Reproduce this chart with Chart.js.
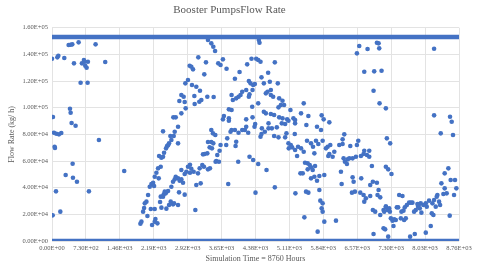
<!DOCTYPE html>
<html><head><meta charset="utf-8">
<script src="https://cdn.jsdelivr.net/npm/chart.js@4/dist/chart.umd.min.js"></script>
<style>html,body{margin:0;padding:0;background:#fff}#w{width:480px;height:273px}</style>
</head><body><div id="w"><canvas id="c"></canvas></div>
<script>
const chartTitle = "Booster PumpsFlow Rate";
const xTitle = "Simulation Time = 8760 Hours";
const yTitle = "Flow Rate (kg/ h)";
const xTickStep = 730, xMax = 8760;
const yTickStep = 20000, yMax = 160000;

// Simulation time (hours) and flow rate (kg/h), read segment by segment
const timeA = [358,401,437,573,938,0,115,136,265,473,644,687,716,745,773,702,1146,616,766,387,401,21,422,508,43,93,150,200,1010,57,64,444,294,451,537,1554,86,795,14,179];
const rateA = [147000,147250,147500,149000,147500,136750,137750,139000,137250,133250,133250,135750,131500,130000,134500,134500,134250,118750,118750,99250,96250,93000,88500,86500,81250,80500,80000,81000,75750,70750,69750,58000,49500,47500,44500,52500,37250,37250,19250,22000];

const timeB = [3357,3429,3472,3510,3149,3314,2963,2999,3035,3278,2927,2870,3013,3106,3185,2784,2834,3064,3343,3479,2741,2856,3071,3171,3214,2877,2784,2612,2663,2713,2390,2641,2620,2548,2569,2519,2476,2455,2498,2713,2305,2355,2390,2412,2340,2283,2247,2211,2297,2176,2140,2104,2197,2068,2032,1997,1982,1961,2126,2211,2054,1925,1903,2154,2211,2269,2226,
 3429,3464,3515,3357,3429,3472,3393,3443,3343,3250,3286,3536,3400,3357,3235,3271,3178,3142,2970,2927,2999,2892,2970,3049,2856,2784,2663,2713,2784,2820,2748,3200,3106,2569,2605,2641,2498,2448,2405,2426,2340,2390,2326,2555,2605,2627,2519,2734,2856,2713,2462,2355,3085];
const rateB = [150750,148250,145750,142500,137750,134000,131500,130750,128750,125000,120750,118250,117000,115750,112750,109500,108250,108750,108250,108000,105000,104250,102750,104500,105750,99500,95750,92750,92750,85750,82250,82000,78750,78750,75750,73250,71250,69500,71750,73250,63750,62500,63250,66250,55750,54500,51250,48250,47000,43750,42750,40750,41250,34500,29500,28250,24750,22000,24000,24000,18750,14500,13000,12000,14500,13250,16500,
 83250,80750,79500,74250,74250,73250,70250,69500,65750,65000,65250,60000,54500,53750,57000,55750,54500,50750,57250,55750,54250,52000,51250,52000,50250,53250,48250,47000,46250,43750,45250,43250,42000,40750,44500,46250,37500,35750,35000,37000,33250,33250,29250,29500,27500,28250,27000,36500,34750,27000,24250,25000,23250];

const timeC = [4452,4466,4294,4395,4438,4488,3679,3578,3628,3757,4201,4796,4037,3937,4509,4652,4237,4273,4330,4366,4560,4688,4860,4316,4180,4094,4058,3865,3965,4015,4237,4251,3893,4638,4710,4603,4710,4760,4889,4961,4996,4925,4875,4438,4309,3807,3865,4560,4603,4710,4781,4889,4961,5061,5132,3700,3679,3807,3807,4180,4316,4373,4359,4517,4660,4660,4732,4839,4946,5018,5089,5196,5232,5232,4581,4509,4488,4781,4875,5018,5046,4180,4151,4223,4094,4015,3937,3865,3843,3772,3951,3965,3750,3628,3607,3557,3521,3593,4008,4251,4330,4438,4617,3793,4380,4796,5239,5089,5139,5168,5096,5232,5275,5225,5296,5347];
const rateC = [150750,148750,136750,136750,135750,134500,136250,133250,132000,129250,132500,134000,126750,121750,122750,126250,120000,118250,117000,117750,118250,119500,118250,113250,113250,112000,109500,109500,107000,108250,108250,110000,105750,112000,113250,110750,109500,108250,107000,105250,102000,102000,100250,103250,100750,98750,98250,97000,95750,95250,94500,92750,92000,91250,98250,93750,91250,92000,90250,91250,92750,87750,85750,84500,88250,84500,84500,85250,88250,87750,90250,92000,90750,88250,82000,80250,78250,78750,77750,77750,80750,85750,83250,81250,83250,81250,83250,83250,82000,77000,71250,74500,72000,72000,67750,64500,59500,59500,59500,63250,60750,57750,53250,42750,36250,40250,35750,73250,72000,70250,69500,68250,63750,80250,70750,50750];

const timeD = [6613,6563,6792,6993,7029,7043,6721,6935,7093,6921,7050,7186,5418,5360,5518,5475,5804,5847,5969,5704,5790,6291,6255,6592,5489,5575,5682,5825,5732,5618,5933,5990,5897,6183,6420,6563,6255,5360,5418,5647,5969,6040,5947,6076,6721,6828,6778,6828,6706,6649,6542,6470,6363,6305,6399,6276,6348,5446,5503,5547,5575,5661,5397,5503,5611,5647,5575,5704,5754,5861,6885,7186,6219,6234,6470,6492,6656,6849,6906,6993,7029,7007,7065,6456,6520,6635,6706,6756,6721,6849,6906,6956,7065,7136,7186,5468,5518,5754,5775,5825,5804,5825,5861,6112,5432,5718,6921,7136];
const rateD = [146250,140750,144000,148750,148250,144500,127000,127250,127750,112750,103250,99500,103250,95750,93750,87000,94250,91250,89000,85750,83250,80000,76250,75250,75250,73250,75250,75250,72750,70750,70750,72000,69500,72000,71250,72000,72750,69500,67000,65750,65250,63250,63750,67000,67750,67750,64500,63250,65250,63750,63250,62000,61250,59500,62000,62000,57750,58750,58250,57000,55250,56250,50750,53750,53250,48250,47000,45250,48750,49500,56250,55750,52000,42750,47750,44500,47000,42000,44500,43750,38250,34500,32750,36250,37000,36250,34500,32000,29500,33750,23250,22000,19500,23250,25750,37000,36250,38250,30250,28250,24500,22000,14500,15250,17750,7000,5250,9500];

const timeE = [8224,8224,8567,8603,8367,8631,7207,7279,7236,7307,8531,8452,8381,8452,8495,8424,8581,8674,8703,8653,8295,8281,8224,8331,8353,8259,8188,8116,8045,8066,7994,7937,7902,7865,7880,7830,7794,7916,7951,7758,7723,7686,7637,7593,7565,7521,7450,7422,7472,7543,7508,7615,7579,7400,7329,7365,7293,7257,7221,7186,7150,7272,7350,7236,7708,7808,8045,8152,8209,8174,8560,7171];
const rateE = [144250,94250,93250,89500,80750,79500,77000,73250,53750,50250,54500,50750,43250,39500,35750,35250,45750,45750,39500,34500,34500,33250,30750,29500,27000,25750,28250,30250,28250,25750,27000,28250,27750,27750,25750,23250,22000,24500,21250,28750,28750,28750,27000,25250,22750,22000,25250,25250,34500,33750,17000,17000,15750,15750,15250,16250,17000,24500,23250,25750,22000,22000,11250,3250,3250,5250,6250,11250,19500,20750,19000,8750];

// Points that pile up on the upper limit and at zero form two solid bands
const capTime = [0, 8760], capRate = [153000, 153000];
const zeroTime = [0, 8760], zeroRate = [0, 0];

const allTime = [].concat(timeA, timeB, timeC, timeD, timeE);
const allRate = [].concat(rateA, rateB, rateC, rateD, rateE);
const pts = allTime.map((t, i) => ({x: t, y: allRate[i]}));
const toXY = (xs, ys) => xs.map((t, i) => ({x: t, y: ys[i]}));

function sci(v) {
  const s = Number(v).toExponential(2);
  const [m, e] = s.split('e');
  const sign = e[0] === '-' ? '-' : '+';
  const n = Math.abs(parseInt(e, 10));
  return m + 'E' + sign + String(n).padStart(2, '0');
}

const blue = '#4472C4';
const txt = '#595959';
const serif = '"Liberation Serif", "Times New Roman", serif';

new Chart(document.getElementById('c'), {
  type: 'scatter',
  data: {
    datasets: [
      {data: toXY(capTime, capRate), showLine: true, borderColor: blue, borderWidth: 4.5, pointRadius: 0, borderCapStyle: 'round'},
      {data: toXY(zeroTime, zeroRate), showLine: true, borderColor: blue, borderWidth: 4.5, pointRadius: 0, borderCapStyle: 'round'},
      {data: pts, backgroundColor: blue, borderColor: blue, borderWidth: 0, pointRadius: 2.3}
    ]
  },
  options: {
    responsive: true, maintainAspectRatio: false, animation: false,
    layout: {padding: {left: 0, right: 21, top: 0, bottom: 0}},
    plugins: {
      legend: {display: false}, tooltip: {enabled: false},
      title: {display: true, text: chartTitle, color: txt, font: {family: serif, size: 11, weight: 'normal'}, padding: {top: 4, bottom: 10.5}}
    },
    scales: {
      x: {
        type: 'linear', min: 0, max: xMax,
        afterFit: s => { s.height = 32; },
        ticks: {stepSize: xTickStep, autoSkip: false, maxRotation: 0, color: txt, padding: 3, font: {family: serif, size: 6.5}, callback: v => sci(v)},
        grid: {color: '#e3e3e3', drawTicks: false},
        border: {display: false},
        title: {display: true, text: xTitle, color: txt, font: {family: serif, size: 8}, padding: {top: 0, bottom: 9.2}}
      },
      y: {
        min: 0, max: yMax,
        afterFit: s => { s.width = 52; },
        ticks: {stepSize: yTickStep, color: txt, padding: 4, font: {family: serif, size: 6.5}, callback: v => sci(v)},
        grid: {color: '#e3e3e3', drawTicks: false},
        border: {color: '#e3e3e3'},
        title: {display: true, text: yTitle, color: txt, font: {family: serif, size: 8}, padding: {top: 7.2, bottom: 0}}
      }
    }
  }
});
</script>
</body></html>
